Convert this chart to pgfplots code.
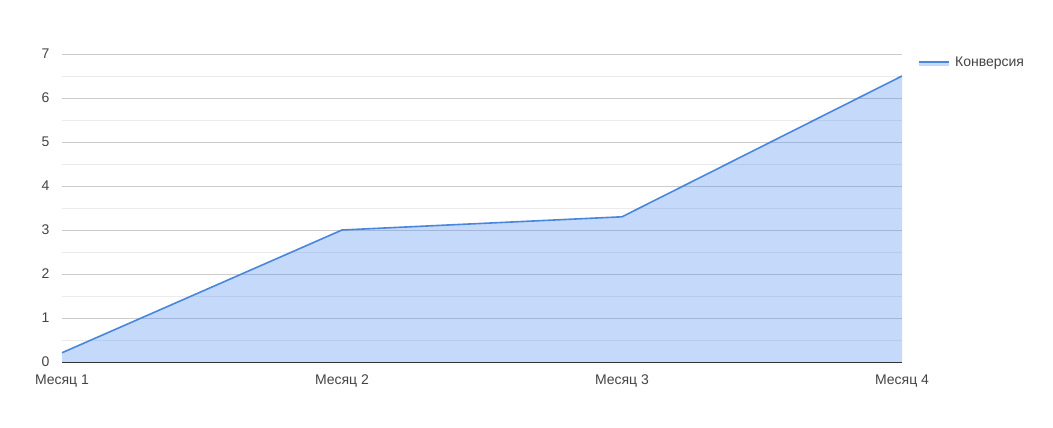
\documentclass[border=0pt]{standalone}
\usepackage{pgfplots}
\pgfplotsset{compat=1.18}
\usepackage{fontspec}
\setmainfont{Liberation Sans}
\definecolor{linec}{RGB}{74,134,220}
\definecolor{fillb}{RGB}{66,133,244}
\definecolor{majg}{RGB}{204,204,204}
\definecolor{ming}{RGB}{235,235,235}
\definecolor{txt}{RGB}{68,68,68}
\begin{document}
\begin{tikzpicture}[x=1pt,y=1pt]
\path[fill=white] (-62,-66) rectangle (991,362);
\begin{axis}[
  scale only axis,
  width=840pt, height=308pt,
  xmin=0, xmax=3, ymin=0, ymax=7,
  xtick={0,1,2,3},
  xticklabels={Месяц 1,Месяц 2,Месяц 3,Месяц 4},
  ytick={0,1,...,7},
  minor ytick={0.5,1.5,...,6.5},
  ymajorgrids, yminorgrids,
  major grid style={majg, line width=0.8pt},
  minor grid style={ming, line width=0.8pt},
  axis x line=bottom,
  axis y line=left,
  y axis line style={draw=none},
  x axis line style={-, black!80, line width=0.8pt},
  major tick length=0pt, minor tick length=0pt,
  tick label style={font=\fontsize{14}{16}\selectfont, text=txt},
  /pgf/number format/assume math mode=true,
  xticklabel style={yshift=-9pt},
  yticklabel style={xshift=-9pt},
  legend style={draw=none, fill=none, at={(rel axis cs:1.016,0.974)}, anchor=west, font=\fontsize{14}{16}\selectfont, text=txt, nodes={inner xsep=5pt}},
  legend cell align=left,
  legend image code/.code={
    \path[fill=fillb, fill opacity=0.3, draw=none] (0cm,-0.13cm) rectangle (1.05cm,0cm);
    \path[draw=linec, line width=1.6pt] (0cm,0cm) -- (1.05cm,0cm);
  },
]
\addplot[draw=none, fill=fillb, fill opacity=0.3, forget plot] coordinates {(0,0.21) (1,3.0) (2,3.3) (3,6.5)} \closedcycle;
\addplot[linec, line width=1.6pt, no marks] coordinates {(0,0.21) (1,3.0) (2,3.3) (3,6.5)};
\addlegendentry{Конверсия}
\end{axis}
\end{tikzpicture}
\end{document}
